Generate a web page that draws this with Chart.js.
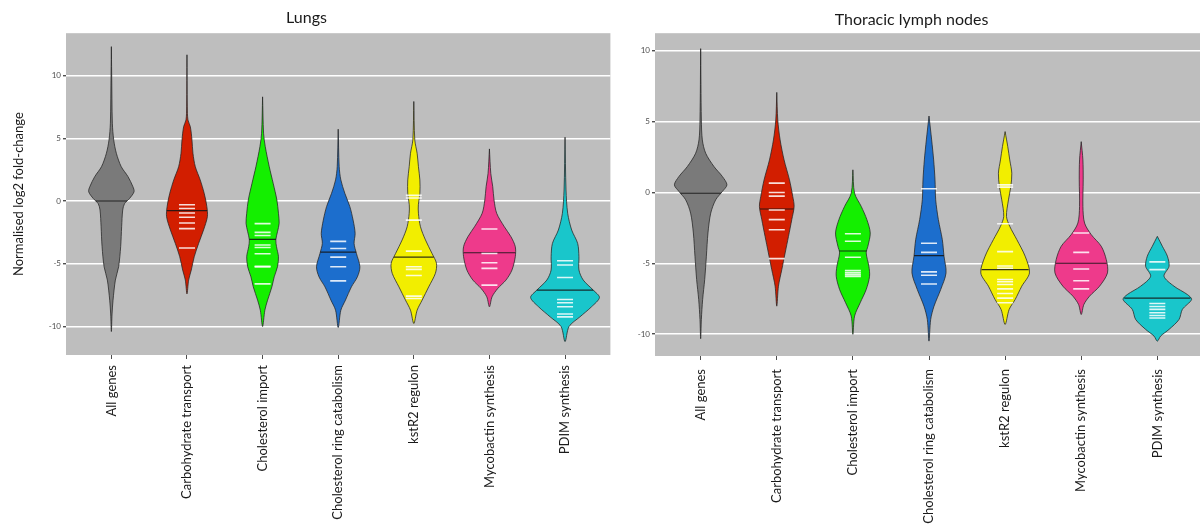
<!DOCTYPE html>
<html>
<head>
<meta charset="utf-8">
<script src="https://cdn.jsdelivr.net/npm/chart.js@4.4.0/dist/chart.umd.min.js"></script>
<style>
  body { margin: 0; background: #fff; overflow: hidden; width: 1200px; height: 531px; position: relative; }
  canvas { position: absolute; top: 0; }
  #lungs { left: 0; }
  #tln { left: 620px; }
</style>
</head>
<body>
<canvas id="lungs" width="620" height="531"></canvas>
<canvas id="tln" width="660" height="531"></canvas>
<script>
  const categories = ['All genes', 'Carbohydrate transport', 'Cholesterol import', 'Cholesterol ring catabolism', 'kstR2 regulon', 'Mycobactin synthesis', 'PDIM synthesis'];
  const violinColors = ['#7a7a7a', '#d21e00', '#14ef00', '#1c6ecd', '#f2ee00', '#ee3a8b', '#19c6cb'];
  const yTicks = [-10, -5, 0, 5, 10];

  // Lungs: density outline [log2FC, half width in category units], medians, single genes
  const lungsDensity = [
    [[12.3,0],[10.2,0.004],[6.2,0.013],[4.87,0.031],[3.8,0.066],[2.74,0.13],[1.94,0.22],[1.14,0.285],[0.74,0.3],[0.2,0.24],[-0.2,0.175],[-0.72,0.15],[-2.05,0.136],[-3.64,0.123],[-5.24,0.096],[-6.3,0.053],[-7.9,0.022],[-9.0,0.009],[-10.4,0]],
    [[11.65,0],[7.5,0.004],[6.46,0.013],[5.93,0.044],[4.87,0.066],[3.8,0.079],[2.74,0.11],[1.68,0.175],[0.61,0.228],[-0.45,0.263],[-1.25,0.27],[-2.31,0.219],[-3.38,0.154],[-4.44,0.096],[-5.5,0.057],[-6.3,0.022],[-7.4,0]],
    [[8.3,0],[5.4,0.013],[4.34,0.035],[2.74,0.088],[1.41,0.14],[0.08,0.189],[-0.98,0.21],[-1.78,0.219],[-2.45,0.197],[-3.1,0.175],[-3.64,0.184],[-4.44,0.21],[-5.24,0.197],[-6.04,0.154],[-6.84,0.123],[-7.9,0.066],[-8.7,0.03],[-10.0,0]],
    [[5.72,0],[2.74,0.013],[1.68,0.035],[0.61,0.088],[-0.45,0.154],[-1.52,0.197],[-2.58,0.224],[-3.38,0.21],[-4.18,0.241],[-5.24,0.287],[-6.04,0.254],[-6.84,0.175],[-7.9,0.096],[-8.7,0.035],[-10.08,0]],
    [[7.93,0],[4.87,0.013],[3.8,0.044],[2.74,0.061],[1.68,0.08],[0.61,0.08],[-0.3,0.06],[-0.98,0.061],[-2.05,0.088],[-3.1,0.154],[-4.18,0.241],[-4.97,0.3],[-5.77,0.285],[-6.84,0.197],[-7.9,0.11],[-8.7,0.044],[-9.76,0]],
    [[4.15,0],[2.2,0.018],[1.14,0.044],[0.08,0.061],[-0.98,0.096],[-2.05,0.197],[-2.85,0.285],[-3.64,0.342],[-4.44,0.342],[-5.5,0.298],[-6.3,0.219],[-6.97,0.11],[-7.63,0.035],[-8.43,0]],
    [[5.08,0],[0.88,0.013],[-0.98,0.035],[-2.31,0.088],[-3.38,0.167],[-4.44,0.184],[-5.5,0.184],[-6.3,0.241],[-7.1,0.373],[-7.69,0.455],[-8.43,0.35],[-9.23,0.197],[-10.0,0.053],[-11.2,0]]
  ];
  const lungsMedians = [0.0, -0.77, -3.06, -4.07, -4.47, -4.12, -7.1];
  const lungsGenes = [
    [],
    [-0.3, -0.6, -0.95, -1.3, -1.75, -2.2, -3.75],
    [-1.8, -2.5, -2.75, -3.5, -3.7, -4.2, -5.2, -5.25, -6.6],
    [-3.22, -3.78, -4.47, -5.24, -6.36],
    [0.45, 0.24, -1.52, -3.99, -5.24, -5.45, -5.93, -7.58, -7.77],
    [-2.23, -4.18, -4.92, -5.37, -6.7],
    [-4.76, -5.1, -6.09, -7.85, -8.11, -8.43, -9.0, -9.23]
  ];
  const lungsRange = [-12.27, 13.37];

  // Thoracic lymph nodes
  const tlnDensity = [
    [[10.16,0],[5.12,0.009],[3.71,0.022],[2.77,0.066],[1.83,0.175],[1.13,0.285],[0.54,0.345],[0.07,0.285],[-0.52,0.197],[-1.46,0.132],[-2.86,0.096],[-4.5,0.075],[-6.15,0.053],[-7.56,0.026],[-8.97,0.009],[-10.33,0]],
    [[7.07,0],[5.12,0.013],[3.71,0.044],[2.3,0.096],[0.89,0.167],[-0.28,0.21],[-0.99,0.228],[-1.92,0.197],[-3.1,0.154],[-4.27,0.11],[-5.45,0.066],[-6.62,0.022],[-8.03,0]],
    [[1.6,0],[-0.05,0.022],[-0.99,0.11],[-1.92,0.184],[-2.86,0.228],[-3.8,0.197],[-4.27,0.175],[-5.21,0.21],[-5.92,0.219],[-6.85,0.175],[-7.79,0.096],[-8.73,0.022],[-10.02,0]],
    [[5.4,0],[3.71,0.035],[2.3,0.061],[0.89,0.079],[-0.52,0.088],[-1.92,0.123],[-3.33,0.175],[-4.5,0.197],[-5.68,0.224],[-6.85,0.154],[-8.03,0.066],[-8.97,0.022],[-10.5,0]],
    [[4.3,0],[3.24,0.035],[2.3,0.061],[1.36,0.088],[0.42,0.075],[-0.52,0.044],[-1.69,0.018],[-2.39,0.061],[-3.33,0.154],[-4.5,0.263],[-5.68,0.32],[-6.62,0.219],[-7.56,0.132],[-8.26,0.053],[-9.32,0]],
    [[3.59,0],[2.3,0.022],[0.89,0.026],[-0.99,0.022],[-2.16,0.044],[-2.98,0.132],[-3.8,0.263],[-4.74,0.329],[-5.68,0.345],[-6.62,0.241],[-7.32,0.11],[-7.91,0.035],[-8.62,0]],
    [[-3.1,0],[-3.8,0.066],[-4.5,0.132],[-5.21,0.154],[-5.92,0.088],[-6.62,0.219],[-7.21,0.395],[-7.56,0.45],[-8.26,0.329],[-8.97,0.285],[-9.67,0.154],[-10.14,0.044],[-10.5,0]]
  ];
  const tlnMedians = [-0.05, -1.17, -4.13, -4.46, -5.45, -5.0, -7.46];
  const tlnGenes = [
    [],
    [0.66, 0, -0.26, -1.24, -1.92, -2.63, -4.67],
    [-2.91, -3.45, -4.58, -5.52, -5.68, -5.82, -5.94],
    [0.26, -3.59, -4.23, -5.61, -5.85, -6.46],
    [0.54, 0.38, -2.21, -4.18, -5.19, -5.35, -6.15, -6.31, -6.5, -6.81, -7.14, -7.46, -7.79],
    [-2.86, -4.23, -5.4, -6.24, -6.81],
    [-4.9, -5.45, -7.84, -8.05, -8.26, -8.5, -8.69, -8.87]
  ];
  const tlnRange = [-11.55, 11.25];

  // grey panel behind the plot
  const panelBg = {
    id: 'panelBg',
    beforeDraw(chart) {
      const a = chart.chartArea;
      const ctx = chart.ctx;
      ctx.save();
      ctx.fillStyle = '#bebebe';
      ctx.fillRect(a.left, a.top, a.right - a.left, a.bottom - a.top);
      ctx.restore();
    }
  };

  function widthAt(profile, y) {
    for (let k = 0; k < profile.length - 1; k++) {
      const [y0, w0] = profile[k];
      const [y1, w1] = profile[k + 1];
      if (y <= y0 && y >= y1) return w0 + (w1 - w0) * (y0 - y) / (y0 - y1);
    }
    return 0;
  }

  // right side top->bottom, then left side bottom->top
  function violinPoints(profile, i) {
    const right = profile.map(([y, w]) => ({x: i + w, y: y}));
    const left = profile.slice().reverse().map(([y, w]) => ({x: i - w, y: y}));
    return right.concat(left.slice(1));
  }

  function buildChart(id, title, density, medians, genes, range, opts) {
    const datasets = [];
    datasets.push({
      data: genes.flatMap((vals, i) => vals.map(v => ({x: i, y: v}))),
      showLine: false,
      pointStyle: 'line',
      pointRadius: 8,
      pointBorderColor: 'rgba(255,255,255,0.85)',
      pointBorderWidth: 1.6,
      order: 0
    });
    medians.forEach((m, i) => {
      const w = widthAt(density[i], m);
      datasets.push({
        data: [{x: i - w, y: m}, {x: i + w, y: m}],
        showLine: true,
        borderColor: 'rgba(20,20,20,0.85)',
        borderWidth: 1.1,
        pointRadius: 0,
        order: 1
      });
    });
    density.forEach((profile, i) => {
      datasets.push({
        data: violinPoints(profile, i),
        showLine: true,
        fill: 'shape',
        backgroundColor: violinColors[i],
        borderColor: 'rgba(35,35,35,0.75)',
        borderWidth: 1,
        pointRadius: 0,
        tension: 0.3,
        order: 2
      });
    });

    return new Chart(document.getElementById(id), {
      type: 'scatter',
      data: {datasets: datasets},
      options: {
        responsive: false,
        animation: false,
        events: [],
        layout: {padding: opts.padding},
        plugins: {
          legend: {display: false},
          tooltip: {enabled: false},
          title: {
            display: true,
            text: title,
            font: {family: 'Lato', size: 16, weight: 'normal'},
            color: '#1a1a1a',
            padding: opts.titlePad
          }
        },
        scales: {
          x: {
            type: 'linear',
            min: -0.6,
            max: 6.6,
            afterBuildTicks: s => { s.ticks = categories.map((c, i) => ({value: i})); },
            afterFit: s => { s.height = opts.xHeight; },
            grid: {drawOnChartArea: false, drawTicks: true, tickLength: 4, tickColor: '#4d4d4d'},
            border: {display: false},
            ticks: {
              autoSkip: false,
              minRotation: 90,
              maxRotation: 90,
              padding: opts.xPad,
              font: {family: 'Lato', size: 13},
              color: '#1a1a1a',
              callback: v => categories[v]
            }
          },
          y: {
            min: range[0],
            max: range[1],
            afterBuildTicks: s => { s.ticks = yTicks.map(v => ({value: v})); },
            afterFit: s => { s.width = opts.yWidth; },
            grid: {color: '#ffffff', lineWidth: 1.4, tickLength: 3, tickColor: '#4d4d4d'},
            border: {display: false},
            ticks: {font: {family: 'Lato', size: 8}, color: '#4d4d4d', padding: 2},
            title: {
              display: !!opts.yTitle,
              text: opts.yTitle || '',
              font: {family: 'Lato', size: 13},
              color: '#1a1a1a',
              padding: {top: 11, bottom: 0}
            }
          }
        }
      },
      plugins: [panelBg]
    });
  }

  buildChart('lungs', 'Lungs', lungsDensity, lungsMedians, lungsGenes, lungsRange, {
    padding: {left: 0, right: 7, top: 0, bottom: 0},
    titlePad: {top: 8, bottom: 6},
    xHeight: 176,
    xPad: 6,
    yWidth: 66,
    yTitle: 'Normalised log2 fold-change'
  });

  buildChart('tln', 'Thoracic lymph nodes', tlnDensity, tlnMedians, tlnGenes, tlnRange, {
    padding: {left: 0, right: 77, top: 0, bottom: 0},
    titlePad: {top: 10, bottom: 4},
    xHeight: 175,
    xPad: 9,
    yWidth: 35
  });
</script>
</body>
</html>
